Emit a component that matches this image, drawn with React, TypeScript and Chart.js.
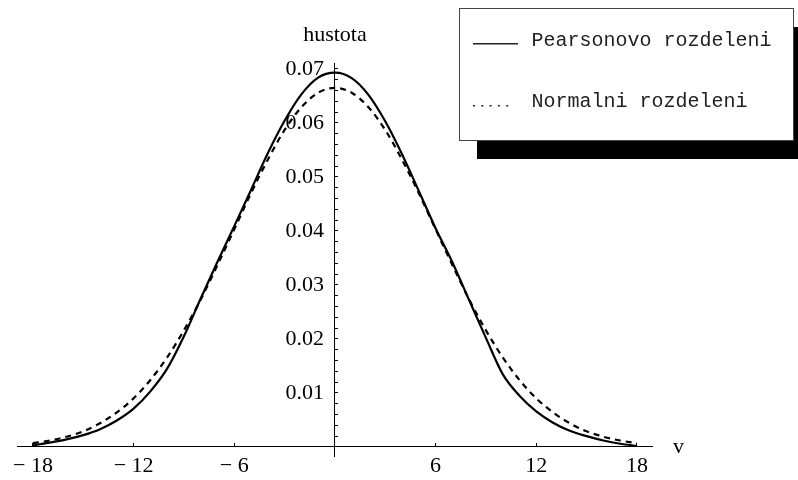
import React, { useEffect, useRef } from 'react';
import { Chart, registerables } from 'chart.js';

Chart.register(...registerables);

const X_VALUES = [-18, -17, -16, -15, -14, -13, -12, -11, -10, -9, -8, -7, -6, -5, -4, -3, -2, -1, 0, 1, 2, 3, 4, 5, 6, 7, 8, 9, 10, 11, 12, 13, 14, 15, 16, 17, 18];
const PEARSON = [0.0003, 0.0008, 0.0014, 0.0022, 0.0033, 0.0049, 0.0071, 0.0103, 0.0145, 0.0205, 0.0275, 0.0343, 0.0409, 0.0476, 0.0544, 0.0604, 0.0653, 0.0684, 0.0693, 0.0683, 0.0652, 0.0603, 0.0542, 0.0474, 0.0405, 0.0342, 0.0272, 0.0202, 0.0135, 0.0095, 0.0066, 0.0045, 0.0030, 0.0020, 0.0012, 0.0006, 0.0002];
const NORMAL = [0.0007, 0.0012, 0.0019, 0.0029, 0.0044, 0.0064, 0.0090, 0.0124, 0.0166, 0.0216, 0.0273, 0.0337, 0.0403, 0.0470, 0.0532, 0.0587, 0.0629, 0.0656, 0.0665, 0.0656, 0.0629, 0.0587, 0.0532, 0.0470, 0.0403, 0.0337, 0.0273, 0.0216, 0.0166, 0.0124, 0.0090, 0.0064, 0.0044, 0.0029, 0.0019, 0.0012, 0.0007];
const X_TICKS = [-18, -12, -6, 6, 12, 18];
const Y_TICKS = [0.002, 0.004, 0.006, 0.008, 0.01, 0.012, 0.014, 0.016, 0.018, 0.02, 0.022, 0.024, 0.026, 0.028, 0.03, 0.032, 0.034, 0.036, 0.038, 0.04, 0.042, 0.044, 0.046, 0.048, 0.05, 0.052, 0.054, 0.056, 0.058, 0.06, 0.062, 0.064, 0.066, 0.068, 0.07];
const SERIES_LABELS = ['Pearsonovo rozdeleni', 'Normalni rozdeleni'];
const X_TITLE = 'v';
const Y_TITLE = 'hustota';

const SERIF = '"Liberation Serif", "Times New Roman", serif';
const MONO = '"Liberation Mono", "Courier New", monospace';

const zeroPadding = (scale: any) => {
  scale.paddingLeft = 0;
  scale.paddingRight = 0;
  scale.paddingTop = 0;
  scale.paddingBottom = 0;
};

const overlayPlugin = {
  id: 'overlay',
  afterDraw(chart: any) {
    const ctx = chart.ctx as CanvasRenderingContext2D;
    const xs = chart.scales.x;
    const ys = chart.scales.y;
    ctx.save();
    // axis titles
    ctx.fillStyle = '#000';
    ctx.font = `22px ${SERIF}`;
    ctx.textAlign = 'center';
    ctx.textBaseline = 'alphabetic';
    ctx.fillText(Y_TITLE, xs.getPixelForValue(0), 40.5);
    ctx.textAlign = 'left';
    ctx.fillText(X_TITLE, chart.chartArea.right + 21, ys.getPixelForValue(0) + 6);

    // legend box with shadow
    const bx = 459, by = 8, bw = 334, bh = 132;
    ctx.fillStyle = '#000';
    ctx.fillRect(bx + 18, by + 19, bw, bh);
    ctx.fillStyle = '#fff';
    ctx.fillRect(bx, by, bw, bh);
    ctx.strokeStyle = '#444';
    ctx.lineWidth = 1;
    ctx.strokeRect(bx + 0.5, by + 0.5, bw, bh);

    const ds = chart.data.datasets;
    const rows = [45.7, 107.3];
    ctx.font = `20px ${MONO}`;
    ctx.fillStyle = '#222';
    ctx.textAlign = 'left';
    ctx.textBaseline = 'alphabetic';
    rows.forEach((base, i) => {
      ctx.save();
      ctx.strokeStyle = '#222';
      ctx.lineWidth = 1.4;
      ctx.beginPath();
      if (i === 0) {
        ctx.setLineDash([]);
        ctx.moveTo(473, base - 2);
        ctx.lineTo(518, base - 2);
      } else {
        ctx.setLineDash([2, 6.3]);
        ctx.moveTo(473, base - 1.5);
        ctx.lineTo(514, base - 1.5);
      }
      ctx.stroke();
      ctx.restore();
      ctx.fillText(ds[i].label, 531.5, base);
    });
    ctx.restore();
  },
};

export default function App() {
  const ref = useRef<HTMLCanvasElement | null>(null);

  useEffect(() => {
    if (!ref.current) return;
    const pearsonPts = X_VALUES.map((x, i) => ({ x, y: PEARSON[i] }));
    const normalPts = X_VALUES.map((x, i) => ({ x, y: NORMAL[i] }));
    const chart = new Chart(ref.current, {
      type: 'line',
      data: {
        datasets: [
          {
            label: SERIES_LABELS[0],
            data: pearsonPts,
            borderColor: '#000',
            borderWidth: 2.2,
            pointRadius: 0,
            cubicInterpolationMode: 'monotone',
            fill: false,
          },
          {
            label: SERIES_LABELS[1],
            data: normalPts,
            borderColor: '#000',
            borderWidth: 2.2,
            borderDash: [6, 5],
            pointRadius: 0,
            cubicInterpolationMode: 'monotone',
            fill: false,
          },
        ],
      },
      options: {
        responsive: false,
        maintainAspectRatio: false,
        animation: false,
        layout: { padding: { left: 17, right: 146, top: 63, bottom: 24 } },
        plugins: {
          legend: { display: false },
          tooltip: { enabled: false },
        },
        scales: {
          x: {
            type: 'linear',
            position: { y: 0 },
            min: -18.95,
            max: 18.9,
            afterFit: zeroPadding,
            afterBuildTicks: (scale: any) => {
              scale.ticks = X_TICKS.map((v) => ({ value: v }));
            },
            ticks: {
              autoSkip: false,
              maxRotation: 0,
              padding: 10,
              color: '#000',
              font: { family: SERIF, size: 22 },
              callback: (v: any) => (Number(v) < 0 ? '\u2212 ' + Math.abs(Number(v)) : String(v)),
            },
            grid: { drawOnChartArea: false, drawTicks: true, tickLength: -4, color: '#000', tickWidth: 1 },
            border: { display: true, color: '#000', width: 1 },
          },
          y: {
            type: 'linear',
            position: { x: 0 },
            min: -0.00167,
            max: 0.0711,
            afterFit: zeroPadding,
            afterBuildTicks: (scale: any) => {
              scale.ticks = Y_TICKS.map((v) => ({ value: v }));
            },
            ticks: {
              autoSkip: false,
              padding: 17,
              color: '#000',
              font: { family: SERIF, size: 22 },
              callback: (v: any) => {
                const n = Number(v) * 100;
                return Math.abs(n - Math.round(n)) < 1e-6 ? Number(v).toFixed(2) + '\u2002' : '';
              },
            },
            grid: { drawOnChartArea: false, drawTicks: true, tickLength: -4, color: '#000', tickWidth: 1 },
            border: { display: true, color: '#000', width: 1 },
          },
        },
      },
      plugins: [overlayPlugin],
    } as any);
    return () => chart.destroy();
  }, []);

  return (
    <div style={{ position: 'absolute', left: 0, top: 0, width: 798, height: 480, background: '#fff' }}>
      <canvas ref={ref} width={798} height={480} style={{ display: 'block', width: 798, height: 480 }} />
    </div>
  );
}
